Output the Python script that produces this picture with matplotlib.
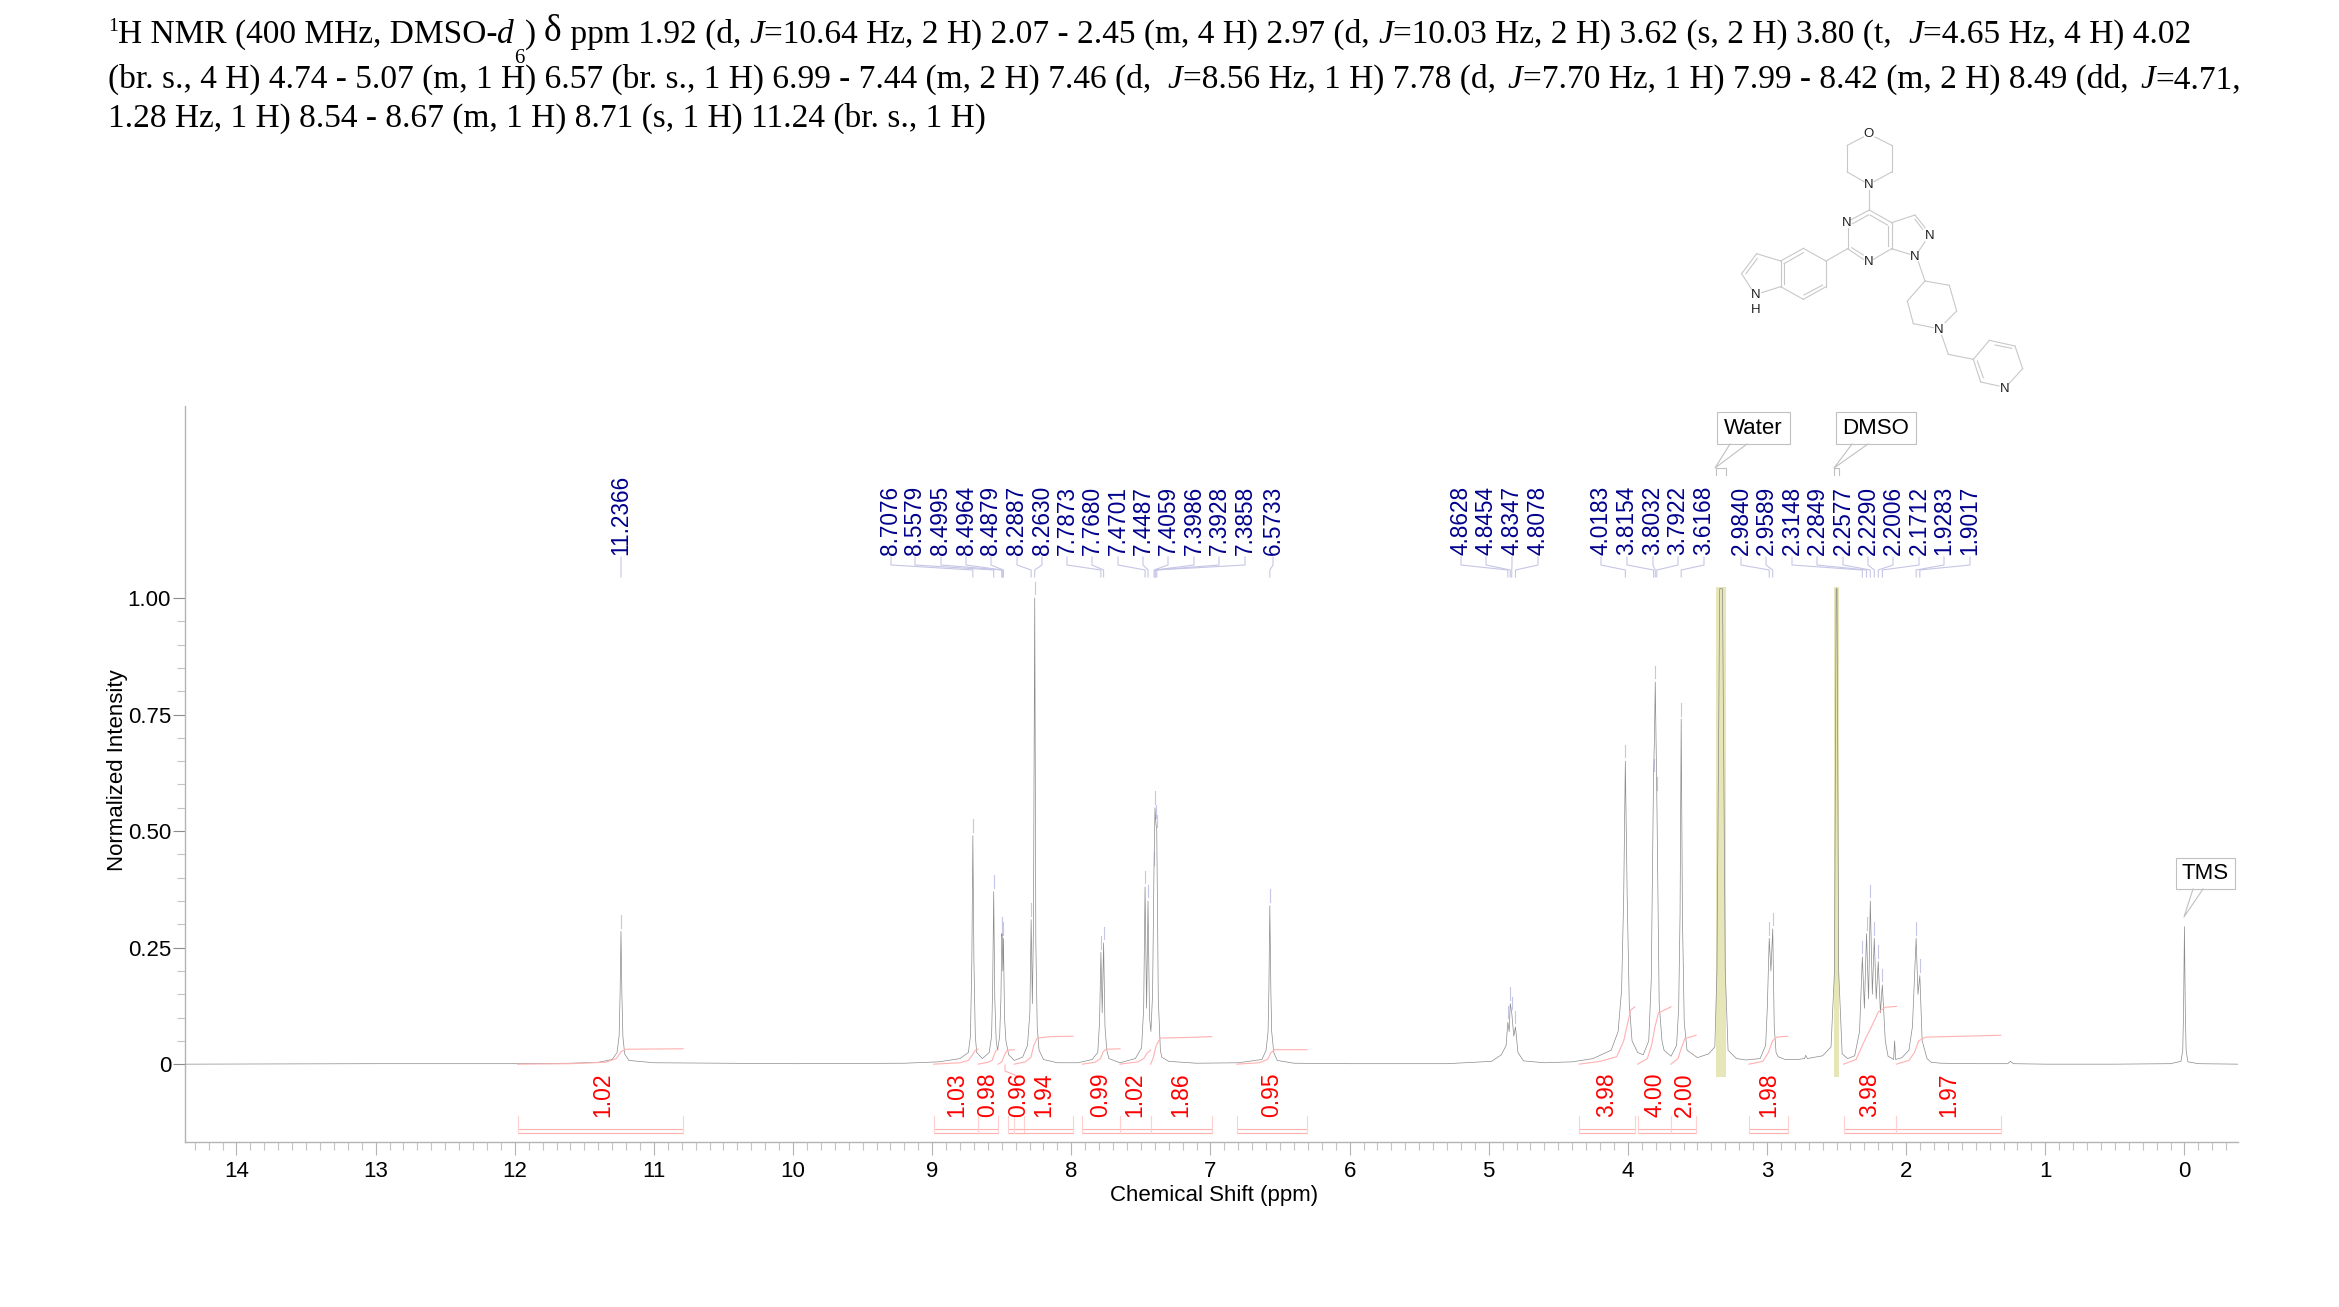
import matplotlib
matplotlib.use("Agg")
import matplotlib.pyplot as plt
from matplotlib.lines import Line2D
from matplotlib.patches import Rectangle
from matplotlib.ticker import FixedLocator
from matplotlib.transforms import Affine2D

WIDTH, HEIGHT = 2339, 1307

# Spectrum trace as (ppm, normalized intensity).
trace_low_field = [
    (14.37, 0.0), (13.0, 0.001), (12.0, 0.001), (11.6, 0.002), (11.4, 0.004), (11.3, 0.01),
    (11.265, 0.025), (11.25, 0.06), (11.243, 0.15), (11.2366, 0.285), (11.23, 0.15), (11.223, 0.06),
    (11.21, 0.022), (11.18, 0.008), (11.0, 0.003), (10.0, 0.001), (9.2, 0.002), (8.95, 0.005), (8.8, 0.012),
]
trace_aromatic = [
    (8.74, 0.025), (8.725, 0.06), (8.715, 0.22), (8.7076, 0.49), (8.7, 0.22), (8.69, 0.06), (8.68, 0.025),
    (8.64, 0.012), (8.59, 0.025), (8.573, 0.06), (8.565, 0.17), (8.5579, 0.37), (8.55, 0.14), (8.54, 0.05),
    (8.53, 0.03), (8.515, 0.06), (8.506, 0.14), (8.4995, 0.28), (8.4964, 0.27), (8.492, 0.2), (8.4879, 0.27),
    (8.48, 0.1), (8.47, 0.05), (8.45, 0.02), (8.41, 0.008), (8.35, 0.015), (8.315, 0.04), (8.298, 0.11),
    (8.2887, 0.31), (8.28, 0.13), (8.272, 0.3), (8.2630, 1.0), (8.255, 0.26), (8.245, 0.08), (8.232, 0.03),
    (8.2, 0.01), (8.1, 0.003), (7.95, 0.003), (7.85, 0.01), (7.81, 0.025), (7.797, 0.09), (7.7873, 0.24),
    (7.778, 0.11), (7.7680, 0.26), (7.758, 0.08), (7.745, 0.03), (7.73, 0.012), (7.65, 0.003), (7.54, 0.012),
    (7.495, 0.035), (7.48, 0.12), (7.4701, 0.38), (7.459, 0.12), (7.4487, 0.35), (7.438, 0.1), (7.428, 0.07),
    (7.416, 0.15), (7.4059, 0.42), (7.3986, 0.55), (7.3928, 0.52), (7.3858, 0.5), (7.375, 0.14),
    (7.36, 0.03), (7.35, 0.015), (7.3, 0.006), (7.1, 0.002), (6.8, 0.003), (6.63, 0.01), (6.6, 0.03),
    (6.586, 0.07), (6.58, 0.16), (6.5733, 0.34), (6.566, 0.16), (6.56, 0.07), (6.545, 0.025), (6.52, 0.008),
    (6.4, 0.002), (6.0, 0.001),
]
trace_methine = [
    (5.3, 0.001), (4.98, 0.006), (4.91, 0.02), (4.875, 0.04), (4.8628, 0.09), (4.853, 0.07), (4.8454, 0.13),
    (4.8347, 0.11), (4.82, 0.06), (4.8078, 0.08), (4.79, 0.025), (4.75, 0.007), (4.6, 0.003),
]
trace_aliphatic = [
    (4.4, 0.005), (4.25, 0.012), (4.12, 0.03), (4.07, 0.07), (4.045, 0.16), (4.03, 0.36), (4.0183, 0.65),
    (4.005, 0.36), (3.99, 0.13), (3.97, 0.05), (3.93, 0.025), (3.89, 0.02), (3.85, 0.05), (3.832, 0.18),
    (3.8154, 0.62), (3.809, 0.7), (3.8032, 0.82), (3.798, 0.7), (3.7922, 0.58), (3.775, 0.13), (3.755, 0.05),
    (3.74, 0.03), (3.69, 0.017), (3.65, 0.04), (3.635, 0.12), (3.625, 0.32), (3.6168, 0.74), (3.608, 0.32),
    (3.595, 0.09), (3.575, 0.03), (3.5, 0.014), (3.42, 0.022), (3.375, 0.037), (3.36, 0.2), (3.34, 1.02),
    (3.32, 1.02), (3.30, 0.2), (3.28, 0.03), (3.22, 0.012), (3.15, 0.009), (3.05, 0.012),
    (3.01, 0.04), (2.998, 0.12), (2.984, 0.27), (2.972, 0.2), (2.9589, 0.29), (2.948, 0.08),
    (2.935, 0.025), (2.92, 0.016), (2.87, 0.01), (2.78, 0.01), (2.73, 0.012), (2.722, 0.019), (2.71, 0.012),
    (2.6, 0.018), (2.54, 0.037), (2.515, 0.2), (2.503, 1.02), (2.497, 1.02), (2.485, 0.2),
    (2.46, 0.022), (2.42, 0.012), (2.37, 0.018), (2.335, 0.07), (2.3148, 0.23), (2.30, 0.12),
    (2.2849, 0.28), (2.27, 0.14), (2.2577, 0.35), (2.243, 0.15), (2.2290, 0.27), (2.215, 0.14),
    (2.2006, 0.22), (2.185, 0.11), (2.1712, 0.17), (2.15, 0.05), (2.13, 0.017), (2.09, 0.01),
    (2.083, 0.05), (2.076, 0.01), (2.03, 0.014), (1.98, 0.03), (1.955, 0.08), (1.9283, 0.27),
    (1.915, 0.15), (1.9017, 0.19), (1.885, 0.05), (1.85, 0.012), (1.82, 0.004), (1.75, 0.002),
]
trace_high_field = [
    (1.5, 0.001), (1.27, 0.001), (1.25, 0.006), (1.23, 0.001), (1.0, 0.0), (0.5, 0.0),
    (0.1, 0.001), (0.025, 0.006), (0.012, 0.03), (0.006, 0.12), (0.0, 0.295), (-0.006, 0.12), (-0.012, 0.03),
    (-0.025, 0.005), (-0.1, 0.001), (-0.385, 0.0),
]

# Peak picking labels and the height of the peak each one points at.
peak_shifts = [
    11.2366, 8.7076, 8.5579, 8.4995, 8.4964, 8.4879, 8.2887, 8.2630, 7.7873, 7.7680, 7.4701,
    7.4487, 7.4059, 7.3986, 7.3928, 7.3858, 6.5733, 4.8628, 4.8454, 4.8347, 4.8078, 4.0183,
    3.8154, 3.8032, 3.7922, 3.6168, 2.9840, 2.9589, 2.3148, 2.2849, 2.2577, 2.2290, 2.2006,
    2.1712, 1.9283, 1.9017,
]
peak_heights = [
    0.285, 0.49, 0.37, 0.28, 0.27, 0.27, 0.31, 1.0, 0.24, 0.26, 0.38, 0.35, 0.42, 0.55, 0.52,
    0.5, 0.34, 0.09, 0.13, 0.11, 0.08, 0.65, 0.62, 0.82, 0.58, 0.74, 0.27, 0.29, 0.23, 0.28,
    0.35, 0.27, 0.22, 0.17, 0.27, 0.19,
]
peak_label_x = [
    621, 891, 915, 941, 966, 991, 1017, 1042, 1067, 1092, 1118, 1143, 1168, 1194, 1219, 1245,
    1273, 1461, 1486, 1512, 1538, 1601, 1627, 1653, 1678, 1704, 1741, 1766, 1792, 1817, 1843,
    1868, 1893, 1919, 1944, 1970,
]

# Integrals: region limits in ppm, printed value, and the cumulative curve.
integral_starts = [11.98, 8.99, 8.67, 8.454, 8.411, 7.92, 7.65, 7.43, 6.81, 4.35, 3.93, 3.69, 3.13, 2.45, 2.07]
integral_ends = [10.79, 8.67, 8.526, 8.339, 7.987, 7.65, 7.43, 6.99, 6.305, 3.95, 3.69, 3.51, 2.85, 2.07, 1.32]
integral_values = ["1.02", "1.03", "0.98", "0.96", "1.94", "0.99", "1.02", "1.86", "0.95", "3.98", "4.00", "2.00", "1.98", "3.98", "1.97"]
integral_label_x = [603, 957, 988, 1019, 1044, 1101, 1135, 1181, 1272, 1607, 1655, 1684, 1769, 1870, 1949]
integral_curves = [
    [(11.98, 0.0), (11.6, 0.001), (11.35, 0.004), (11.27, 0.012), (11.235, 0.027), (11.2, 0.032), (10.79, 0.033)],
    [(8.99, 0.0), (8.8, 0.003), (8.74, 0.008), (8.71, 0.02), (8.69, 0.03), (8.67, 0.032)],
    [(8.67, 0.0), (8.6, 0.004), (8.57, 0.008), (8.555, 0.02), (8.54, 0.03), (8.526, 0.031)],
    [(8.526, 0.0), (8.5, 0.005), (8.48, 0.02), (8.46, 0.03), (8.41, 0.031)],
    [(8.411, 0.0), (8.33, 0.005), (8.29, 0.015), (8.27, 0.04), (8.245, 0.056), (8.15, 0.059), (7.987, 0.06)],
    [(7.92, 0.0), (7.83, 0.004), (7.79, 0.012), (7.77, 0.027), (7.75, 0.032), (7.65, 0.033)],
    [(7.65, 0.0), (7.52, 0.005), (7.48, 0.012), (7.455, 0.024), (7.43, 0.03)],
    [(7.43, 0.0), (7.41, 0.015), (7.39, 0.04), (7.36, 0.056), (7.2, 0.057), (6.99, 0.059)],
    [(6.81, 0.0), (6.65, 0.003), (6.59, 0.01), (6.565, 0.025), (6.54, 0.031), (6.305, 0.031)],
    [(4.35, 0.0), (4.2, 0.006), (4.08, 0.016), (4.03, 0.05), (4.0, 0.09), (3.98, 0.116), (3.95, 0.123)],
    [(3.93, 0.0), (3.86, 0.012), (3.83, 0.04), (3.805, 0.08), (3.78, 0.11), (3.69, 0.123)],
    [(3.69, 0.0), (3.64, 0.012), (3.615, 0.035), (3.59, 0.055), (3.51, 0.062)],
    [(3.13, 0.0), (3.03, 0.006), (2.99, 0.025), (2.96, 0.05), (2.93, 0.058), (2.85, 0.06)],
    [(2.45, 0.0), (2.36, 0.01), (2.3, 0.05), (2.25, 0.08), (2.2, 0.112), (2.15, 0.122), (2.07, 0.124)],
    [(2.07, 0.0), (1.98, 0.008), (1.94, 0.025), (1.91, 0.05), (1.86, 0.058), (1.32, 0.062)],
]

x_major = [14, 13, 12, 11, 10, 9, 8, 7, 6, 5, 4, 3, 2, 1, 0]
y_major = [0, 0.25, 0.5, 0.75, 1.0]
y_minor = [0.05, 0.1, 0.15, 0.2, 0.3, 0.35, 0.4, 0.45, 0.55, 0.6, 0.65, 0.7, 0.8, 0.85, 0.9, 0.95]
y_labels = ["0", "0.25", "0.50", "0.75", "1.00"]

solvent_regions = {"Water": (3.366, 3.294), "DMSO": (2.516, 2.483)}

title_lines = [
    [("1", "sup"), ("H NMR (400 MHz, DMSO-", "r"), ("d", "i"), ("6", "sub"), (")", "r"), (" ", "r"), ("δ", "big"),
     (" ppm 1.92 (d, ", "r"), ("J", "i"), ("=10.64 Hz, 2 H) 2.07 - 2.45 (m, 4 H) 2.97 (d, ", "r"), ("J", "i"),
     ("=10.03 Hz, 2 H) 3.62 (s, 2 H) 3.80 (t,  ", "r"), ("J", "i"), ("=4.65 Hz, 4 H) 4.02", "r")],
    [("(br. s., 4 H) 4.74 - 5.07 (m, 1 H) 6.57 (br. s., 1 H) 6.99 - 7.44 (m, 2 H) 7.46 (d,  ", "r"), ("J", "i"),
     ("=8.56 Hz, 1 H) 7.78 (d, ", "r"), (" ", "sp"), ("J", "i"), ("=7.70 Hz, 1 H) 7.99 - 8.42 (m, 2 H) 8.49 (dd, ", "r"),
     (" ", "sp"), ("J", "i"), ("=4.71,", "r")],
    [("1.28 Hz, 1 H) 8.54 - 8.67 (m, 1 H) 8.71 (s, 1 H) 11.24 (br. s., 1 H)", "r")],
]
title_baselines = [43, 88, 127]

# Molecule drawing, segments in zoom-crop units (3x, offset to 1700,110).
bonds = [
    (525, 78, 575, 103), (575, 103, 575, 183), (575, 183, 522, 212), (492, 212, 442, 183), (442, 183, 442, 103),
    (442, 103, 490, 78), (508, 238, 508, 297), (508, 297, 575, 335), (510, 312, 562, 342), (575, 335, 575, 413),
    (563, 345, 563, 405), (575, 413, 520, 445), (490, 445, 443, 413), (455, 410, 490, 432), (443, 413, 443, 352),
    (452, 327, 508, 297), (458, 338, 505, 312), (575, 335, 645, 312), (645, 312, 675, 350), (645, 325, 668, 355),
    (675, 392, 655, 422), (630, 430, 575, 413), (655, 452, 675, 510), (675, 510, 748, 523), (748, 523, 770, 600),
    (770, 600, 735, 635), (700, 650, 640, 638), (640, 638, 622, 570), (622, 570, 675, 510), (725, 673, 745, 730),
    (745, 730, 820, 745), (820, 745, 868, 688), (868, 688, 945, 705), (885, 702, 935, 712), (945, 705, 968, 773),
    (968, 773, 925, 820), (897, 825, 842, 813), (842, 813, 820, 745), (850, 800, 832, 750), (443, 413, 378, 450),
    (378, 450, 310, 412), (310, 412, 242, 450), (242, 450, 242, 527), (242, 527, 310, 565), (310, 565, 378, 527),
    (378, 527, 378, 450), (310, 425, 252, 458), (252, 457, 252, 520), (312, 552, 368, 522), (242, 450, 170, 428),
    (170, 428, 125, 488), (172, 442, 138, 488), (125, 488, 155, 535), (185, 545, 242, 527),
]
atoms = [
    ("O", 507, 70), ("N", 507, 222), ("N", 440, 337), ("N", 505, 453), ("N", 688, 375), ("N", 645, 437),
    ("N", 717, 657), ("N", 913, 833), ("N", 166, 552), ("H", 166, 598),
]

TRACE_COLOR = "#8a8a8a"
AXIS_COLOR = "#b4b4b4"
LABEL_BLUE = "#00008b"
LEADER_BLUE = "#c6c6e6"
PINK = "#ffb0b0"
BAND_COLOR = "#e6e6b8"

plt.rcParams["font.family"] = ["Liberation Sans", "DejaVu Sans"]

fig = plt.figure(figsize=(WIDTH / 100, HEIGHT / 100), dpi=100)
ax = fig.add_axes([185 / WIDTH, 1 - 1142 / HEIGHT, (2238 - 185) / WIDTH, (1142 - 406) / HEIGHT])
ax.set_xlim(14.37, -0.385)
ax.set_ylim(-0.167, 1.412)

# Pixel coordinates with the origin top left, for the page furniture.
pix = Affine2D().scale(1, -1).translate(0, HEIGHT)


def page_line(xs, ys, color, lw=0.8):
    fig.add_artist(Line2D(xs, ys, color=color, lw=lw, transform=pix))


def shift_to_px(shift):
    return ax.transData.transform((shift, 0))[0]


# Solvent highlight behind the trace.
for left, right in solvent_regions.values():
    ax.add_patch(Rectangle((left, -0.027), right - left, 1.051, color=BAND_COLOR, lw=0, zorder=1))

trace = trace_low_field + trace_aromatic + trace_methine + trace_aliphatic + trace_high_field
ax.plot([p[0] for p in trace], [p[1] for p in trace], color=TRACE_COLOR, lw=0.5, zorder=3)

# Small marker dash above every picked peak.
for shift, height in zip(peak_shifts, peak_heights):
    ax.plot([shift, shift], [height + 0.008, height + 0.035], color=LEADER_BLUE, lw=0.8, zorder=2)

# Axes styling.
for side in ["top", "right"]:
    ax.spines[side].set_visible(False)
for side in ["left", "bottom"]:
    ax.spines[side].set_color(AXIS_COLOR)
    ax.spines[side].set_linewidth(1.0)

ax.set_xticks(x_major)
ax.set_xticks([t / 10 for t in range(-3, 144) if t % 10 != 0], minor=True)
ax.set_yticks(y_major, y_labels)
ax.yaxis.set_minor_locator(FixedLocator(y_minor))
ax.tick_params(axis="x", which="major", length=9.5, width=0.8, color=AXIS_COLOR, labelsize=16, pad=4, labelcolor="black")
ax.tick_params(axis="x", which="minor", length=5.5, width=0.8, color="#c4c4c4")
ax.tick_params(axis="y", which="major", length=9, width=0.8, color="#8c8c8c", labelsize=16, pad=1, labelcolor="black")
ax.tick_params(axis="y", which="minor", length=5.5, width=0.8, color="#c4c4c4")
for tick in ax.xaxis.get_minor_ticks():
    if abs(tick.get_loc() % 1 - 0.5) < 1e-6:
        tick.tick1line.set_markersize(7.5)

ax.set_xlabel("Chemical Shift (ppm)", fontsize=16, va="center")
ax.xaxis.set_label_coords(1214, 1195, transform=pix)
ax.set_ylabel("Normalized Intensity", fontsize=16, va="center")
ax.yaxis.set_label_coords(117, 770, transform=pix)

# Peak labels with their bent leaders.
for shift, height, label_x in zip(peak_shifts, peak_heights, peak_label_x):
    peak_x = shift_to_px(shift)
    page_line([label_x, label_x, peak_x, peak_x], [557, 565, 570, 577], LEADER_BLUE)
    fig.text(label_x, 555, f"{shift:.4f}", transform=pix, rotation=90, ha="center", va="bottom",
             fontsize=16.3, color=LABEL_BLUE)

# Integrals: curve, bracket and value.
for start, end, value, label_x, curve in zip(integral_starts, integral_ends, integral_values, integral_label_x, integral_curves):
    ax.plot([p[0] for p in curve], [p[1] for p in curve], color=PINK, lw=0.8, zorder=4)
    x0, x1 = shift_to_px(start), shift_to_px(end)
    page_line([x0, x1], [1129, 1129], PINK)
    page_line([x0, x1], [1133, 1133], PINK)
    page_line([x0, x0], [1116, 1133], "#ffd0d0")
    page_line([x1, x1], [1116, 1133], "#ffd0d0")
    fig.text(label_x, 1117, value, transform=pix, rotation=90, ha="center", va="bottom", fontsize=16.5, color="red")
page_line([1005, 1005, 1017], [1065, 1071, 1076], PINK)

# Solvent and reference callouts.
callouts = [
    ("Water", 1717, 1790, 412, 444, (1730, 1747), 1715, 468),
    ("DMSO", 1836, 1916, 412, 444, (1852, 1868), 1834, 468),
    ("TMS", 2176, 2235, 858, 889, (2193, 2203), 2184, 917),
]
for name, bx0, bx1, by0, by1, feet, tip_x, tip_y in callouts:
    fig.add_artist(Rectangle((bx0, by0), bx1 - bx0, by1 - by0, fc="white", ec="#c0c0c0", lw=0.8, transform=pix))
    fig.text((bx0 + bx1) / 2, (by0 + by1) / 2, name, transform=pix, ha="center", va="center", fontsize=16)
    page_line([feet[0], tip_x, feet[1]], [by1, tip_y, by1], "#c0c0c0")
for left, right in solvent_regions.values():
    x0, x1 = shift_to_px(left), shift_to_px(right)
    page_line([x0, x0, x1, x1], [475, 468, 468, 475], "#c0c0c0")

# Structure.
for x0, y0, x1, y1 in bonds:
    page_line([1700 + x0 / 3, 1700 + x1 / 3], [111 + y0 / 3, 111 + y1 / 3], "#c8c8c8", lw=0.8)
for symbol, x, y in atoms:
    fig.text(1700 + x / 3, 111 + y / 3, symbol, transform=pix, ha="center", va="center", fontsize=9.5, color="#202020")

# Title, placed run by run because the styles change inside a line.
renderer = fig.canvas.get_renderer()
run_styles = {
    "r": dict(fontsize=24),
    "i": dict(fontsize=24, style="italic"),
    "sp": dict(fontsize=10),
    "sup": dict(fontsize=14),
    "sub": dict(fontsize=15),
    "big": dict(fontsize=27),
}
run_offset = {"r": 0, "i": 0, "sp": 0, "sup": -12, "sub": 20, "big": -2}
for line, baseline in zip(title_lines, title_baselines):
    cursor = 108
    for run, kind in line:
        fig.text(cursor, baseline + run_offset[kind], run, transform=pix, ha="left", va="baseline",
                 family="Liberation Serif", color="black", **run_styles[kind])
        # Measure between two bars so that leading and trailing spaces count.
        probe = fig.text(0, 0, "|" + run + "|", family="Liberation Serif", **run_styles[kind])
        bar = fig.text(0, 0, "||", family="Liberation Serif", **run_styles[kind])
        cursor += probe.get_window_extent(renderer).width - bar.get_window_extent(renderer).width
        probe.remove()
        bar.remove()

fig.savefig("out.png", dpi=100, facecolor="white")
